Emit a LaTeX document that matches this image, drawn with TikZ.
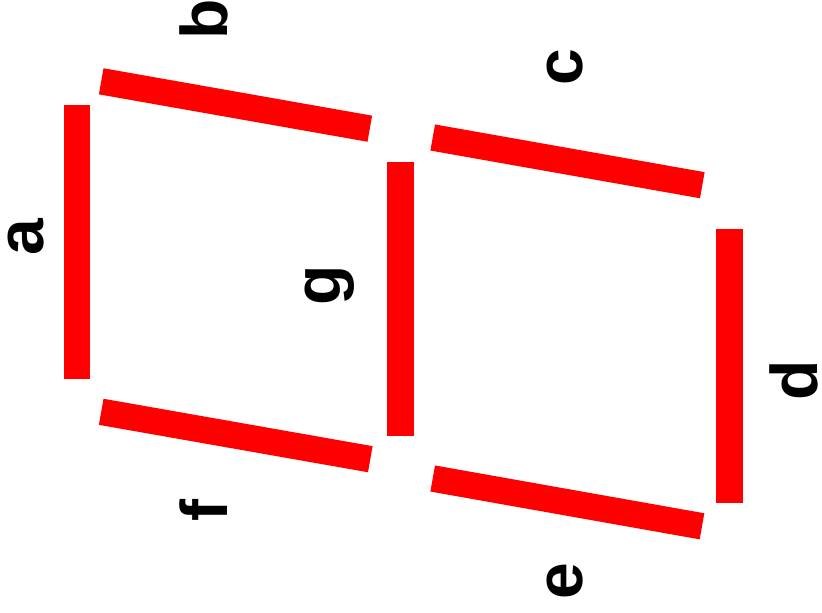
\documentclass[tikz,border=0pt]{standalone}
\usepackage{fontspec}
\setmainfont{Liberation Sans}
\begin{document}
\begin{tikzpicture}[x=1pt,y=-1pt,
  seg/.style={draw=red,line width=26.5pt,line cap=butt},
  lbl/.style={rotate=90,anchor=base,inner sep=0pt,font=\fontsize{66}{70}\selectfont\bfseries}]
\useasboundingbox (0,0) rectangle (822,613);
% segments
\coordinate (a1) at (76.8,105);   \coordinate (a2) at (76.8,378.7);
\coordinate (b1) at (101.2,81.3); \coordinate (b2) at (369.8,128.7);
\coordinate (f1) at (101.2,411.8);\coordinate (f2) at (370.3,459.2);
\coordinate (g1) at (400.3,162);  \coordinate (g2) at (400.3,435.7);
\coordinate (c1) at (432.7,137.5);\coordinate (c2) at (702.3,185.2);
\coordinate (e1) at (432.7,478.5);\coordinate (e2) at (702,526.3);
\coordinate (d1) at (729.7,229);  \coordinate (d2) at (729.7,502.7);
\draw[seg] (a1) -- (a2);
\draw[seg] (b1) -- (b2);
\draw[seg] (f1) -- (f2);
\draw[seg] (g1) -- (g2);
\draw[seg] (c1) -- (c2);
\draw[seg] (e1) -- (e2);
\draw[seg] (d1) -- (d2);
% labels
\node[lbl] (la) at (43.3,237.3) {a};
\node[lbl] (lb) at (227.7,19) {b};
\node[lbl] (lc) at (582.6,66.7) {c};
\node[lbl] (ld) at (817,380.5) {d};
\node[lbl] (le) at (582.6,581.3) {e};
\node[lbl] (lf) at (227.7,510.7) {f};
\node[lbl] (lg) at (340,285) {g};
\end{tikzpicture}
\end{document}
